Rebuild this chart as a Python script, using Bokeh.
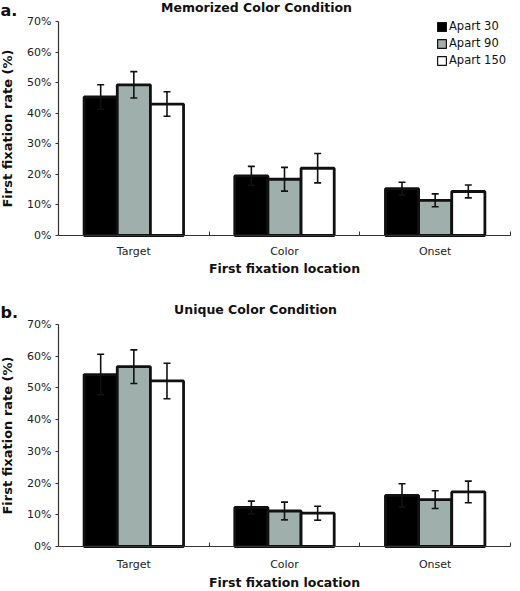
from bokeh.plotting import figure
from bokeh.models import (ColumnDataSource, Whisker, TeeHead, FixedTicker, Label,
                          Range1d, Legend, LegendItem)
from bokeh.layouts import column
from bokeh.embed import file_html
from bokeh.resources import INLINE

# ---------------- data ----------------
categories = ["Target", "Color", "Onset"]
series_names = ["Apart 30", "Apart 90", "Apart 150"]

# Panel a: Memorized Color Condition (first fixation rate, %)
mem_apart30 = [45.3, 19.5, 15.3]
mem_apart90 = [49.3, 18.4, 11.5]
mem_apart150 = [43.0, 22.0, 14.4]
mem_err30 = [4.0, 3.1, 2.1]
mem_err90 = [4.3, 3.9, 2.1]
mem_err150 = [4.0, 4.8, 2.1]

# Panel b: Unique Color Condition
uni_apart30 = [54.2, 12.3, 16.1]
uni_apart90 = [56.7, 11.2, 14.8]
uni_apart150 = [52.2, 10.5, 17.2]
uni_err30 = [6.4, 2.0, 3.7]
uni_err90 = [5.3, 2.8, 2.8]
uni_err150 = [5.6, 2.2, 3.4]

y_ticks = [0, 10, 20, 30, 40, 50, 60, 70]
y_tick_labels = ["0%", "10%", "20%", "30%", "40%", "50%", "60%", "70%"]

# ---------------- layout / style ----------------
FONT = "DejaVu Sans"
W = 518
AXIS_PX = 58        # pixel column of the y axis
RIGHT_PX = 510      # pixel column where the x axis ends
series_fill = ["#000000", "#9eafac", "#ffffff"]
EDGE = "#111111"
AXIS = "#333333"
offsets = [-0.22, 0.0, 0.22]
BAR_W = 0.22
n_cat = len(categories)
sx = (RIGHT_PX - AXIS_PX) / n_cat


def make_panel(means, errs, letter, title, height, top_px, zero_px,
               letter_y, title_x, title_y, lab_standoff, axlab_standoff, legend=False):
    # the plot frame fills the whole canvas; both axes are pinned at 0
    y_max = y_ticks[-1]
    sy = (zero_px - top_px) / y_max
    p = figure(width=W, height=height, output_backend="svg", toolbar_location=None,
               x_range=Range1d(-AXIS_PX / sx, n_cat + (W - RIGHT_PX) / sx),
               y_range=Range1d(-(height - zero_px) / sy, y_max + top_px / sy),
               min_border=0)
    p.outline_line_color = None
    p.xgrid.visible = False
    p.ygrid.visible = False

    for k, (vals, err, fill) in enumerate(zip(means, errs, series_fill)):
        xs = [i + 0.5 + offsets[k] for i in range(n_cat)]
        src = ColumnDataSource(dict(
            x=xs, top=vals,
            upper=[v + e for v, e in zip(vals, err)],
            lower=[v - e for v, e in zip(vals, err)]))
        p.vbar(x="x", top="top", bottom=0, width=BAR_W, source=src,
               fill_color=fill, line_color=EDGE, line_width=2.8)
        wh = Whisker(source=src, base="x", upper="upper", lower="lower",
                     line_color=EDGE, line_width=1.6, level="annotation",
                     upper_head=TeeHead(size=7, line_color=EDGE, line_width=1.6),
                     lower_head=TeeHead(size=7, line_color=EDGE, line_width=1.6))
        p.add_layout(wh)

    # x axis
    xa = p.xaxis[0]
    xa.fixed_location = 0
    xa.bounds = (0, n_cat)
    xa.ticker = FixedTicker(ticks=[i + 0.5 for i in range(n_cat)],
                            minor_ticks=[i + 1 for i in range(n_cat)])
    xa.major_label_overrides = {i + 0.5: c for i, c in enumerate(categories)}
    xa.major_tick_in = 0
    xa.major_tick_out = 0
    xa.minor_tick_in = 4
    xa.minor_tick_out = 0
    xa.minor_tick_line_color = AXIS
    xa.axis_line_color = AXIS
    xa.axis_line_width = 1.2
    xa.major_label_standoff = lab_standoff
    xa.major_label_text_font = FONT
    xa.major_label_text_font_size = "11px"
    xa.major_label_text_color = "#222222"
    xa.axis_label = "First fixation location"
    xa.axis_label_text_font = FONT
    xa.axis_label_text_font_style = "bold"
    xa.axis_label_text_font_size = "12.5px"
    xa.axis_label_text_color = "#111111"
    xa.axis_label_standoff = axlab_standoff

    # y axis
    ya = p.yaxis[0]
    ya.fixed_location = 0
    ya.bounds = (y_ticks[0], y_ticks[-1])
    ya.ticker = FixedTicker(ticks=y_ticks, minor_ticks=[])
    ya.major_label_overrides = {t: l for t, l in zip(y_ticks, y_tick_labels)}
    ya.major_tick_in = 0
    ya.major_tick_out = 3
    ya.major_tick_line_color = AXIS
    ya.axis_line_color = AXIS
    ya.axis_line_width = 1.2
    ya.major_label_standoff = 4
    ya.major_label_text_font = FONT
    ya.major_label_text_font_size = "11px"
    ya.major_label_text_color = "#222222"
    ya.axis_label = "First fixation rate (%)"
    ya.axis_label_text_font = FONT
    ya.axis_label_text_font_style = "bold"
    ya.axis_label_text_font_size = "13px"
    ya.axis_label_text_color = "#111111"
    ya.axis_label_standoff = 9

    # panel letter and title (screen units measured from the canvas bottom-left)
    p.add_layout(Label(x=0, y=height - letter_y, x_units="screen", y_units="screen",
                       text=letter, text_font=FONT, text_font_style="bold",
                       text_font_size="16px", text_align="left", text_baseline="top",
                       text_color="#111111"))
    p.add_layout(Label(x=title_x, y=height - title_y, x_units="screen", y_units="screen",
                       text=title, text_font=FONT, text_font_style="bold",
                       text_font_size="12.5px", text_align="center",
                       text_baseline="middle", text_color="#111111"))

    if legend:
        items = []
        for name, fill in zip(series_names, series_fill):
            r = p.vbar(x=[float("nan")], top=[float("nan")], width=BAR_W, fill_color=fill,
                       line_color=EDGE, line_width=1.2)
            items.append(LegendItem(label=name, renderers=[r]))
        leg = Legend(items=items, location=(436, height - 67), glyph_width=11,
                     glyph_height=11, label_standoff=2, spacing=3, padding=0, margin=0,
                     label_height=11, border_line_color=None, background_fill_alpha=0,
                     label_text_font=FONT, label_text_font_size="11.5px",
                     label_text_line_height=1.0, label_text_color="#111111")
        p.add_layout(leg)
    return p


pa = make_panel([mem_apart30, mem_apart90, mem_apart150],
                [mem_err30, mem_err90, mem_err150],
                "a.", "Memorized Color Condition", 300, 21, 235,
                0, 256, 7, 9, 0, legend=True)
pb = make_panel([uni_apart30, uni_apart90, uni_apart150],
                [uni_err30, uni_err90, uni_err150],
                "b.", "Unique Color Condition", 290, 24, 246,
                2, 255, 9, 11, 1)

layout = column(pa, pb, spacing=0)
open("out.html", "w").write(file_html(layout, INLINE))
